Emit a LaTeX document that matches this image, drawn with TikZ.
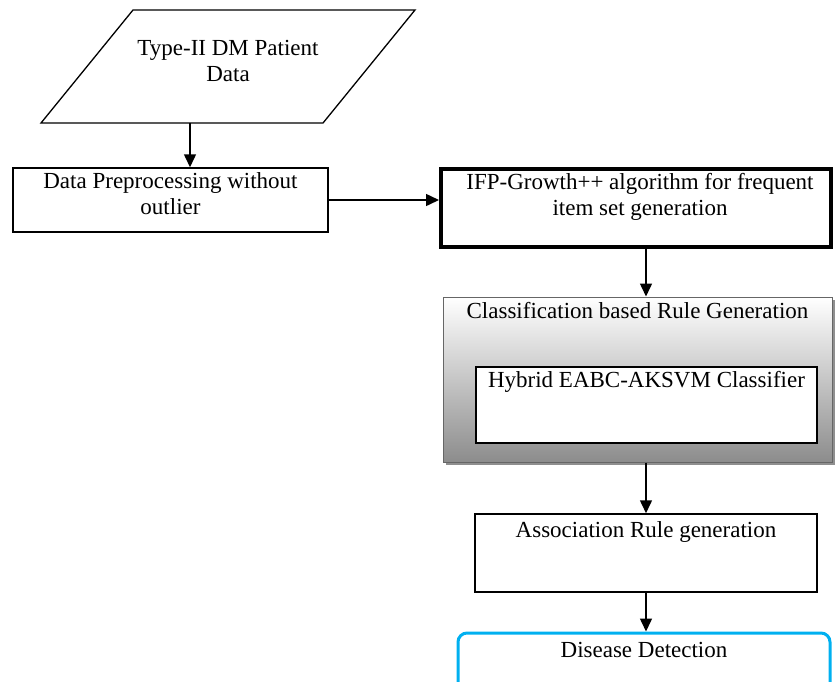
\documentclass[tikz,border=0pt]{standalone}
\usepackage{fontspec}
\setmainfont{Liberation Serif}
\usetikzlibrary{positioning,arrows.meta,shadows}

\begin{document}
\begin{tikzpicture}[x=1pt,y=-1pt,
    box/.style={draw,line width=1.5pt,inner sep=0pt},
    txt/.style={align=center,inner sep=0pt,font=\fontsize{23}{26}\selectfont},
    arr/.style={line width=1.5pt,-{Triangle[width=12pt,length=13pt]}}]
  \clip (0,0) rectangle (836,681);
  % input data
  \draw[line width=1.3pt] (133,10) -- (415,10) -- (323,123) -- (41,123) -- cycle;
  \node[txt] (data) at (228,61) {Type-II DM Patient\\Data};
  \coordinate (dataout) at (190,123);
  % boxes
  \node[box,minimum width=315pt,minimum height=64pt] (prep) at (170.5,200) {};
  \node[box,line width=4pt,minimum width=390pt,minimum height=78pt] (ifp) at (636,208) {};
  \node[box,line width=1pt,draw=black!60,top color=white,bottom color=black!45,
        drop shadow={shadow xshift=3pt,shadow yshift=-3pt,fill=black!55,opacity=.8},
        minimum width=389pt,minimum height=165pt] (cls) at (637.5,379.5) {};
  \node[box,fill=white,minimum width=341pt,minimum height=76pt] (hyb) at (646.5,405) {};
  \node[box,minimum width=342pt,minimum height=78pt] (assoc) at (646,553) {};
  \node[box,draw={rgb,255:red,0;green,176;blue,240},line width=3pt,rounded corners=9pt,
        minimum width=372pt,minimum height=90pt] (dis) at (644,678) {};
  % texts
  \node[txt,below=5pt of prep.north] (preptxt) {Data Preprocessing without\\outlier};
  \node[txt,below=6pt of ifp.north,xshift=4pt] (ifptxt) {IFP-Growth++ algorithm for frequent\\item set generation};
  \node[txt,below=6pt of cls.north] (clstxt) {Classification based Rule Generation};
  \node[txt,below=5pt of hyb.north] (hybtxt) {Hybrid EABC-AKSVM Classifier};
  \node[txt,below=8pt of assoc.north] (assoctxt) {Association Rule generation};
  \node[txt,below=11pt of dis.north] (distxt) {Disease Detection};
  % arrows
  \draw[arr] (dataout) -- (prep.north -| dataout);
  \draw[arr] (prep.east) -- (prep.east -| ifp.west);
  \draw[arr] (assoc.north |- ifp.south) -- (assoc.north |- cls.north);
  \draw[arr] (assoc.north |- cls.south) -- (assoc.north);
  \draw[arr] (assoc.south) -- (assoc.south |- dis.north);
\end{tikzpicture}
\end{document}
